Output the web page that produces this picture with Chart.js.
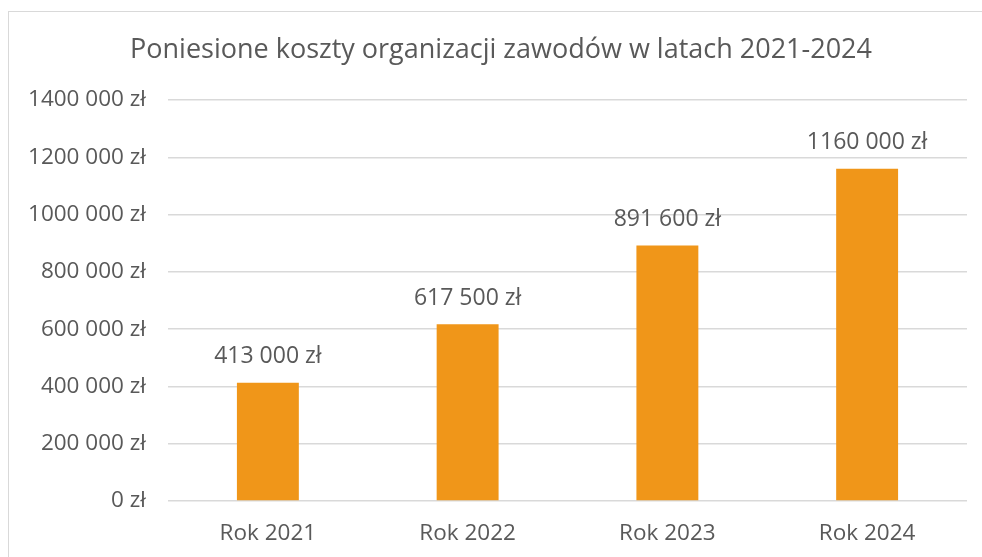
<!DOCTYPE html>
<html>
<head>
<meta charset="utf-8">
<script src="https://cdn.jsdelivr.net/npm/chart.js@4/dist/chart.umd.min.js"></script>
<style>
    html, body { margin: 0; padding: 0; background: #fff; overflow: hidden; }
    #wrap { position: relative; width: 982px; height: 557px; }
    #frame { position: absolute; left: 8px; top: 11px; width: 1000px; height: 600px; border: 1px solid #d9d9d9; }
    #chart { position: absolute; left: 0; top: 0; }
</style>
</head>
<body>
<div id="wrap">
    <div id="frame"></div>
    <canvas id="chart" width="982" height="557"></canvas>
</div>
<script>
const categories = ['Rok 2021', 'Rok 2022', 'Rok 2023', 'Rok 2024'];
const costs = [413000, 617500, 891600, 1160000];
const yTicks = [0, 200000, 400000, 600000, 800000, 1000000, 1200000, 1400000];
const chartTitle = 'Poniesione koszty organizacji zawodów w latach 2021-2024';

const textColor = '#595959';
const fontFamily = "'Open Sans', 'Noto Sans', sans-serif";

// Excel style: "1400 000 zł" (only the last group is split off)
function formatZl(v) {
    if (v < 1000) return v + ' zł';
    const rest = String(v % 1000).padStart(3, '0');
    return Math.floor(v / 1000) + ' ' + rest + ' zł';
}

// Title centred on the whole frame (not only the plot), plus value labels above bars
const chartText = {
    id: 'chartText',
    afterDatasetsDraw(chart) {
        const ctx = chart.ctx;
        const meta = chart.getDatasetMeta(0);
        ctx.save();
        ctx.fillStyle = textColor;
        ctx.textAlign = 'center';
        ctx.textBaseline = 'middle';

        ctx.font = '27px ' + fontFamily;
        ctx.fillText(chartTitle, 501, 50);

        ctx.font = '23px ' + fontFamily;
        meta.data.forEach((bar, i) => {
            ctx.fillText(formatZl(costs[i]), bar.x, bar.y - 26);
        });
        ctx.restore();
    }
};

new Chart(document.getElementById('chart'), {
    type: 'bar',
    data: {
        labels: categories,
        datasets: [{
            data: costs,
            backgroundColor: '#F09619',
            borderWidth: 0,
            categoryPercentage: 1,
            barPercentage: 0.31
        }]
    },
    options: {
        responsive: false,
        animation: false,
        layout: { padding: { top: 100, right: 15, bottom: 0, left: 0 } },
        plugins: {
            legend: { display: false },
            tooltip: { enabled: false },
            title: { display: false }
        },
        scales: {
            x: {
                grid: { display: false },
                border: { display: false },
                ticks: { color: textColor, font: { family: fontFamily, size: 22.5 }, padding: 11 },
                afterFit(scale) { scale.height = 56; }
            },
            y: {
                min: 0,
                max: 1400000,
                afterBuildTicks(scale) { scale.ticks = yTicks.map(v => ({ value: v })); },
                grid: { color: '#d9d9d9', lineWidth: 1.5, drawTicks: false },
                border: { display: false },
                ticks: {
                    color: textColor,
                    font: { family: fontFamily, size: 22.5 },
                    padding: 22,
                    callback: v => formatZl(v)
                },
                afterFit(scale) { scale.width = 168; }
            }
        }
    },
    plugins: [chartText]
});
</script>
</body>
</html>
